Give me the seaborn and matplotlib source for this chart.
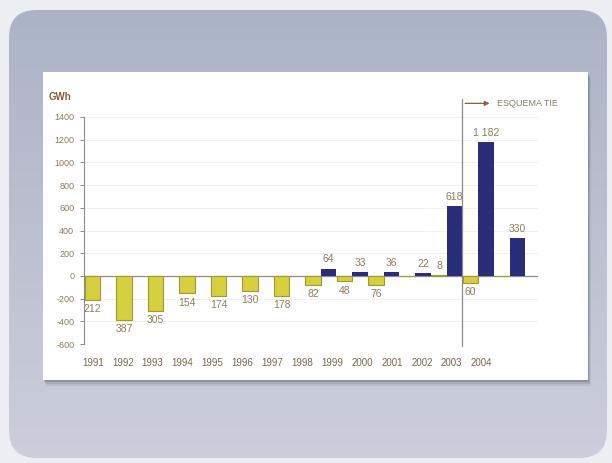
import numpy as np
import pandas as pd
import matplotlib
matplotlib.use("Agg")
import matplotlib.pyplot as plt
from matplotlib.patches import FancyBboxPatch, Rectangle
import seaborn as sns

# Annual exchange balance, GWh
years = ["1991", "1992", "1993", "1994", "1995", "1996", "1997",
         "1998", "1999", "2000", "2001", "2002", "2003", "2004"]
year_labels = ["1991", "1992", "1993", "1994", "1995", "1996", "1997",
               "1998", "1999", "2000", "2001", "2002", "2003", "2004"]
negative_flow = [-212, -387, -305, -154, -174, -130, -178,
                 -82, -48, -76, 0, 8, -60, 0]
positive_flow = [0, 0, 0, 0, 0, 0, 0,
                 64, 33, 36, 22, 618, 1182, 330]
y_ticks = [-600, -400, -200, 0, 200, 400, 600, 800, 1000, 1200, 1400]
unit_label = "GWh"
scheme_label = "ESQUEMA TIE"

W, H = 612, 463
YELLOW = "#d6cf40"
YELLOW_EDGE = "#a09830"
NAVY = "#2a2e7a"
TXT = "#8d7c5c"
TXT_DARK = "#7a6848"

sns.set_theme(style="white")
plt.rcParams["font.family"] = ["Liberation Sans Narrow", "Liberation Sans", "DejaVu Sans"]

fig = plt.figure(figsize=(W / 100, H / 100), dpi=100)
fig.patch.set_facecolor("#eceef3")


def fx(px):
    return px / W


def fy(py):
    return 1 - py / H


# rounded blue-grey backdrop with a soft vertical gradient
bg_ax = fig.add_axes([0, 0, 1, 1], zorder=0)
bg_ax.set_xlim(0, 1)
bg_ax.set_ylim(0, 1)
bg_ax.axis("off")
grad = np.linspace(0, 1, 256).reshape(-1, 1)
top_c = np.array([0.667, 0.702, 0.772])
bot_c = np.array([0.800, 0.808, 0.862])
img = (grad * bot_c + (1 - grad) * top_c)[:, None, :]
img = np.repeat(img, 2, axis=1)
im = bg_ax.imshow(img, extent=[0, 1, 0, 1], origin="upper", aspect="auto")
backdrop = FancyBboxPatch((fx(9), fy(458)), fx(607) - fx(9), fy(10) - fy(458),
                          boxstyle="round,pad=0,rounding_size=0.045",
                          transform=bg_ax.transAxes, facecolor="none",
                          edgecolor="none", mutation_aspect=W / H)
bg_ax.add_patch(backdrop)
im.set_clip_path(backdrop)

# white card with shadow
for off, alpha in [(6, 0.10), (4, 0.15), (2, 0.25)]:
    bg_ax.add_patch(Rectangle((fx(43 + off * 0.5), fy(380 + off)),
                              fx(588) - fx(43), fy(72) - fy(380),
                              facecolor="#4a4f60", alpha=alpha, edgecolor="none"))
bg_ax.add_patch(Rectangle((fx(43), fy(380)), fx(588) - fx(43), fy(72) - fy(380),
                          facecolor="white", edgecolor="none"))

# chart axes
ax = fig.add_axes([fx(84), fy(344), fx(538) - fx(84), fy(117) - fy(344)], zorder=2)
ax.patch.set_alpha(0)

df = pd.DataFrame({
    "year": years * 2,
    "value": negative_flow + positive_flow,
    "series": ["neg"] * len(years) + ["pos"] * len(years),
})
sns.barplot(data=df, x="year", y="value", hue="series", order=years,
            hue_order=["neg", "pos"], palette={"neg": YELLOW, "pos": NAVY},
            width=0.98, dodge=True, legend=False, ax=ax, zorder=3,
            linewidth=0, saturation=1)

neg_bars, pos_bars = ax.containers[0], ax.containers[1]
for p in neg_bars:
    p.set_edgecolor(YELLOW_EDGE)
    p.set_linewidth(0.8)

ax.set_xlim(-0.52, 13.9)
ax.set_ylim(-600, 1400)
ax.set_yticks(y_ticks)
ax.set_yticklabels([str(v) for v in y_ticks], fontsize=6.5, color=TXT)
ax.tick_params(axis="y", length=3, width=0.7, color="#8a8a8a", pad=4, left=True)

# category labels run on their own slightly tighter spacing
label_pos = np.linspace(-0.24, 12.11, len(year_labels))
ax.set_xticks(label_pos)
ax.set_xticklabels(year_labels, fontsize=7, color=TXT_DARK)
ax.tick_params(axis="x", length=0, pad=10)
ax.set_xlabel("")
ax.set_ylabel("")

for s in ["top", "right", "bottom"]:
    ax.spines[s].set_visible(False)
ax.spines["left"].set_color("#8a8a8a")
ax.spines["left"].set_linewidth(0.8)

for v in y_ticks:
    if v != 0:
        ax.axhline(v, color="#f0f0f0", lw=0.7, zorder=1)
ax.axhline(0, color="#8c8c8c", lw=0.9, zorder=2)

# value labels
neg_text = [("" if v == 0 else f"{abs(v)}") for v in negative_flow]
pos_text = [("" if v == 0 else f"{v:,}".replace(",", " ")) for v in positive_flow]
ax.bar_label(neg_bars, labels=neg_text, padding=3, fontsize=7.5, color=TXT)
ax.bar_label(pos_bars, labels=pos_text, padding=3, fontsize=7.5, color=TXT)

# scheme change marker
x_split = 11.5
ax.plot([x_split, x_split], [-620, 1555], color="#8a8a8a", lw=0.9,
        clip_on=False, zorder=4)
ax.annotate("", xy=(12.45, 1520), xytext=(x_split, 1520),
            arrowprops=dict(arrowstyle="-|>", color="#9a5a3a", lw=0.9,
                            mutation_scale=7),
            annotation_clip=False)
ax.text(12.6, 1520, scheme_label, fontsize=6.5, color=TXT, va="center",
        ha="left", clip_on=False)

fig.text(fx(49), fy(97), unit_label, fontsize=7, color="#8c5a3c",
         fontweight="bold", va="center", ha="left")

fig.savefig("out.png", dpi=100)
